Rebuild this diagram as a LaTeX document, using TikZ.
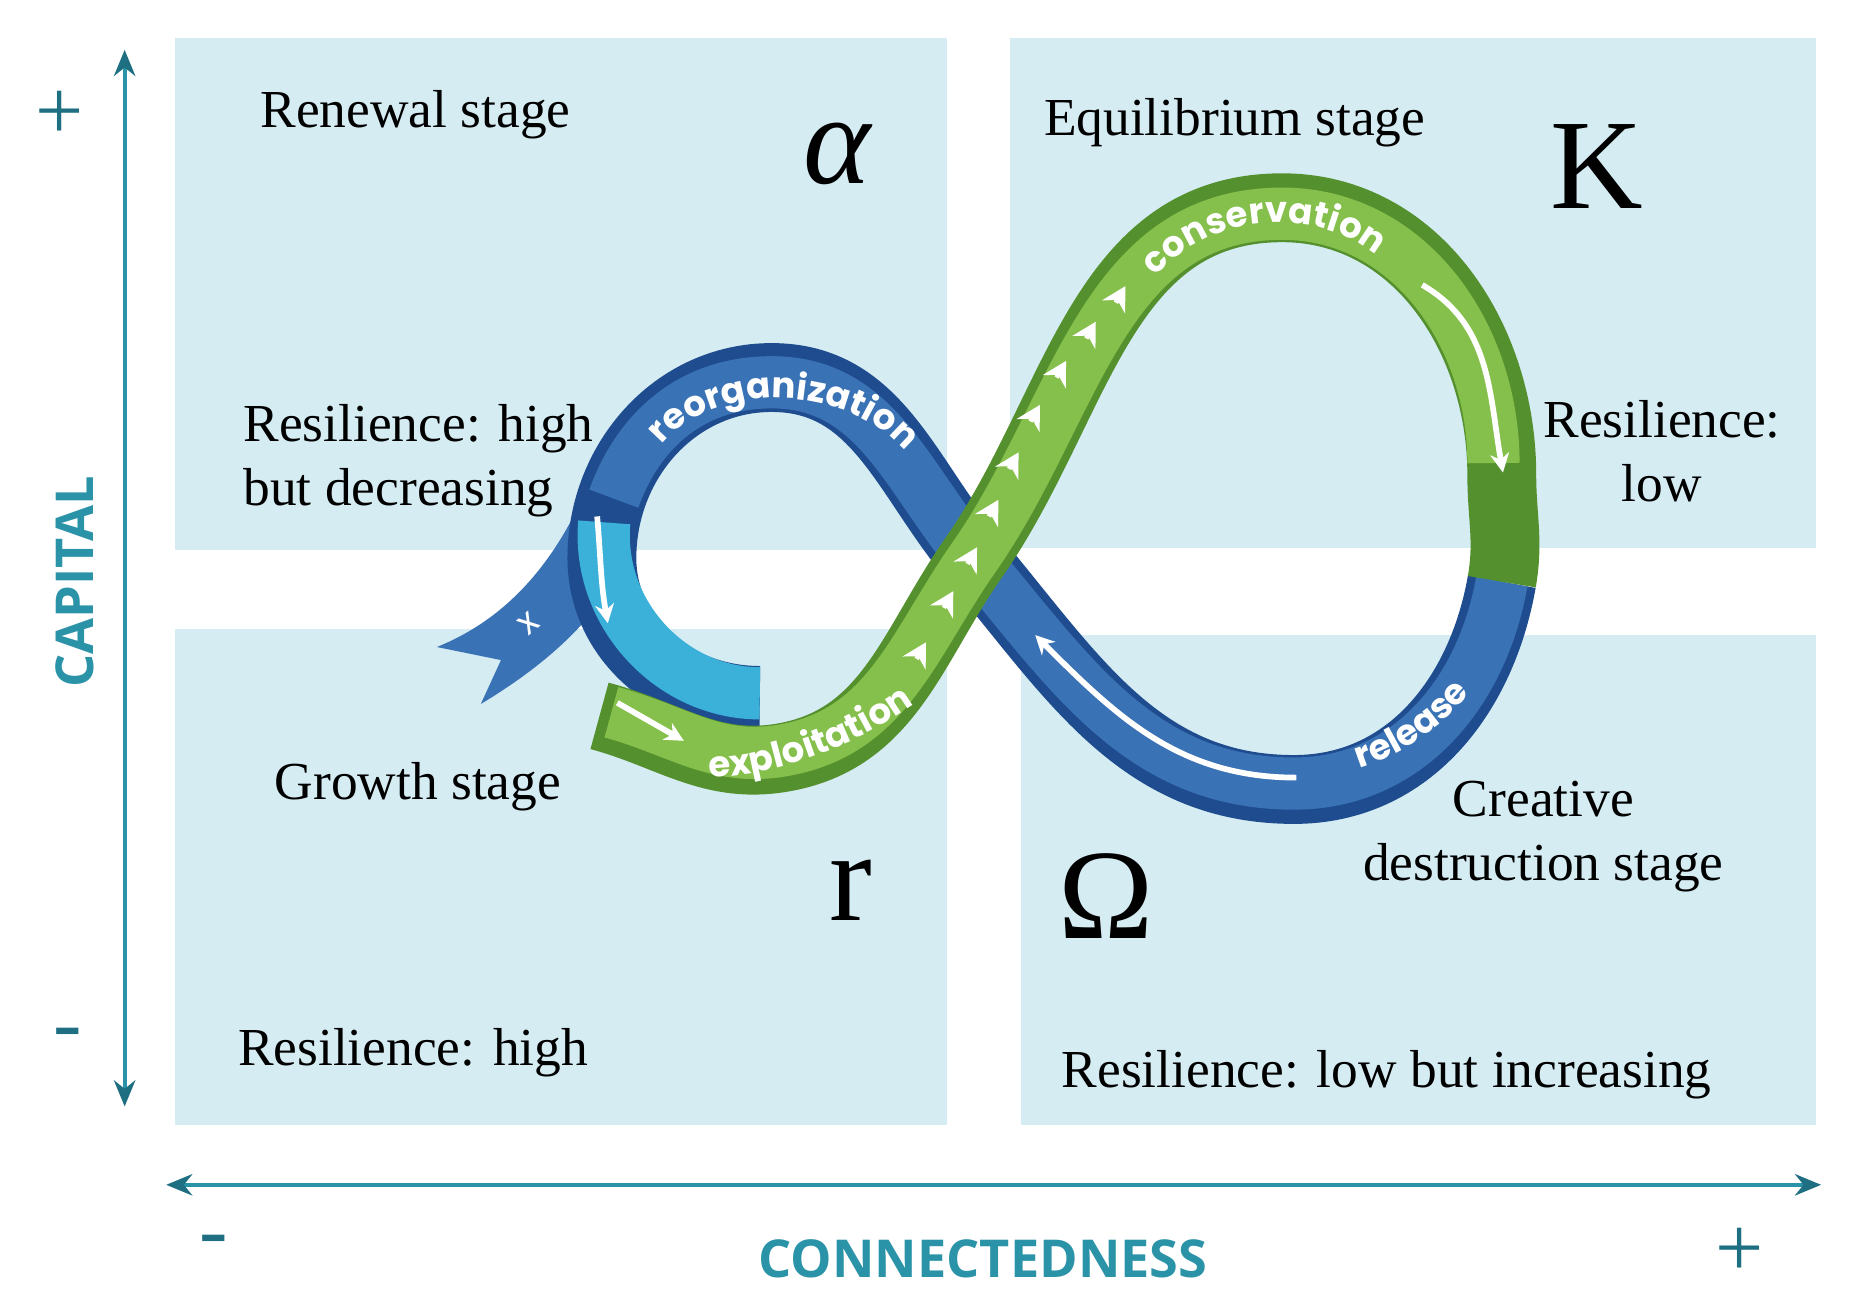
\documentclass[tikz,border=0pt]{standalone}
\usepackage{fontspec}
\setmainfont{Liberation Serif}
\newfontfamily\bandfont{Poppins}
\newfontfamily\axfont{Open Sans}
\usetikzlibrary{arrows.meta,decorations.text}
\definecolor{panel}{HTML}{D5ECF3}
\definecolor{axis}{HTML}{2B93A8}
\definecolor{axisdk}{HTML}{1F6F82}
\definecolor{bluedk}{HTML}{1E4C8E}
\definecolor{bluem}{HTML}{3A72B6}
\definecolor{cyanb}{HTML}{3BB0D8}
\definecolor{greendk}{HTML}{55902E}
\definecolor{greenm}{HTML}{86C04C}
\begin{document}
\begin{tikzpicture}[x=0.5pt,y=-0.5pt,
  pan/.style={fill=panel,draw=none},
  lab/.style={font=\fontsize{22.5}{27}\selectfont,align=left},
  big/.style={font=\fontsize{54}{58}\selectfont},
  ax/.style={draw=axis,line width=1.6,{Stealth[length=11,width=9,color=axisdk]}-{Stealth[length=11,width=9,color=axisdk]}},
  band/.style={line width=29,line cap=butt},
  inner/.style={line width=22,line cap=butt},
  wa/.style={white,line width=2.4,-{Stealth[length=8,width=8]}},
  btxt/.style={decorate,decoration={text along path,text align=center,text={|\color{white}\bandfont\bfseries\fontsize{15}{15}\selectfont|#1}}}
]
\useasboundingbox (0,0) rectangle (1560,1103.5);
% panels
\fill[pan] (147,32) rectangle (798,463);
\fill[pan] (851,32) rectangle (1530,462);
\fill[pan] (147,530) rectangle (798,948);
\fill[pan] (860,535) rectangle (1530,948);
% axes
\coordinate (vt) at (105,42); \coordinate (vb) at (105,932);
\coordinate (hl) at (140,998); \coordinate (hr) at (1534,998);
\draw[ax] (vt) -- (vb);
\draw[ax] (hl) -- (hr);
\node[text=axisdk,font=\fontsize{36}{36}\selectfont] (pl1) at (50,97) {+};
\node[text=axisdk,font=\fontsize{36}{36}\selectfont] (mi1) at (57,876) {-};
\node[text=axisdk,font=\fontsize{36}{36}\selectfont] (mi2) at (180,1050) {-};
\node[text=axisdk,font=\fontsize{36}{36}\selectfont] (pl2) at (1465,1055) {+};
\node[text=axis,font=\axfont\bfseries\fontsize{22}{22}\selectfont,rotate=90] (cap) at (63,490) {CAPITAL};
\node[text=axis,font=\axfont\bfseries\fontsize{22}{22}\selectfont] (con) at (828,1060) {CONNECTEDNESS};
% texts
\node[lab] (t1) at (350,97) {Renewal stage};
\node[big] (t2) at (705,130) {\itshape α};
\node[lab] (t3) at (1040,103) {Equilibrium stage};
\node[big] (t4) at (1345,140) {K};
\node[lab,anchor=west] (t5) at (198,388) {Resilience: high\\but decreasing};
\node[lab,align=center] (t6) at (1400,380) {Resilience:\\low};
\node[lab] (t7) at (352,663) {Growth stage};
\node[big] (t8) at (717,750) {r};
\node[big] (t9) at (932,755) {Ω};
\node[lab,align=center] (t10) at (1300,705) {Creative\\destruction stage};
\node[lab] (t11) at (348,887) {Resilience: high};
\node[lab] (t12) at (1168,905) {Resilience: low but increasing};
% tail ribbon
\fill[bluem] (497,405) .. controls (470,470) and (430,520) .. (368,545) -- (422,556) -- (405,593) .. controls (460,560) and (505,520) .. (528,470) -- cycle;
\node[white,font=\bandfont\fontsize{15}{15}\selectfont,rotate=40] (tx) at (445,525) {x};
% blue band
\draw[band,bluedk] (1265,490) to[out=-100,in=0] (1090,665) to[out=180,in=-50] (820,470) to[out=130,in=0] (650,318) to[out=180,in=90] (507,470) to[out=-90,in=180] (640,590);
\draw[inner,bluem] (1265,490) to[out=-100,in=0] (1090,660) to[out=180,in=-50] (820,470) to[out=130,in=0] (650,322) to[out=180,in=70] (517,420);
\draw[inner,cyanb] (509,440) to[out=-95,in=180] (640,584);
% green band
\draw[band,greendk] (505,603) to[out=-15,in=190] (660,638) to[out=10,in=-125] (820,470) to[out=55,in=180] (1080,175) to[out=0,in=90] (1265,400) to[out=-90,in=80] (1265,490);
\draw[inner,greenm] (515,600) to[out=-15,in=190] (660,632) to[out=10,in=-125] (820,470) to[out=55,in=180] (1080,180) to[out=0,in=90] (1258,390);
% band labels
\path[btxt=reorganization] (550,385) .. controls (590,318) and (720,318) .. (770,390);
\path[btxt=conservation] (965,245) .. controls (1010,175) and (1120,170) .. (1170,225);
\path[btxt=exploitation] (592,655) .. controls (650,655) and (720,630) .. (775,590);
\path[btxt=release] (1135,650) .. controls (1175,640) and (1215,615) .. (1245,575);
% white arrows
\draw[wa] (503,435) to[out=-85,in=100] (512,525);
\draw[wa] (520,592) -- (576,624);
\draw[wa] (1198,240) to[out=-30,in=100] (1266,398);
\draw[wa] (1092,655) to[out=180,in=-45] (872,535);
\foreach \x/\y in {772/555,795/512,815/475,833/435,850/395,868/355,890/318,915/285,940/255}
  \draw[white,line width=2,-{Stealth[length=10,width=11]}] (\x,\y) -- ++(8,-14);
\end{tikzpicture}
\end{document}
